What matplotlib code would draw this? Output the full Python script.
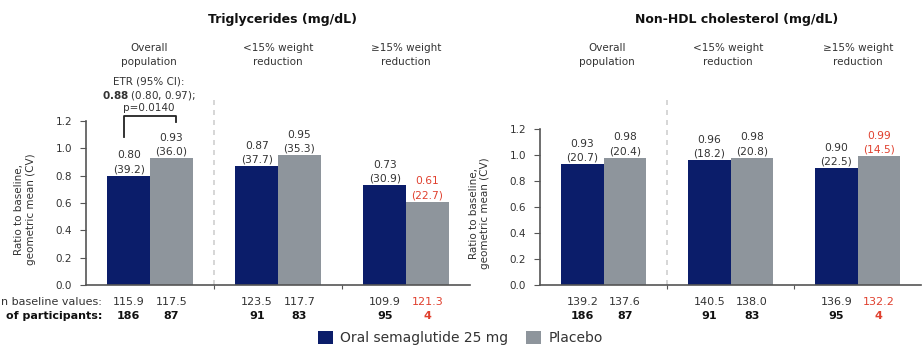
import matplotlib
matplotlib.use('Agg')
import matplotlib.pyplot as plt
from matplotlib.patches import Patch

# ---------------- data ----------------
groups = ['Overall\npopulation', '<15% weight\nreduction', '\u226515% weight\nreduction']

tg_sema = [0.80, 0.87, 0.73]
tg_sema_cv = [39.2, 37.7, 30.9]
tg_plac = [0.93, 0.95, 0.61]
tg_plac_cv = [36.0, 35.3, 22.7]
tg_base_sema = [115.9, 123.5, 109.9]
tg_base_plac = [117.5, 117.7, 121.3]

nh_sema = [0.93, 0.96, 0.90]
nh_sema_cv = [20.7, 18.2, 22.5]
nh_plac = [0.98, 0.98, 0.99]
nh_plac_cv = [20.4, 20.8, 14.5]
nh_base_sema = [139.2, 140.5, 136.9]
nh_base_plac = [137.6, 138.0, 132.2]

n_sema = [186, 91, 95]
n_plac = [87, 83, 4]
placebo_flag = [False, False, True]   # small-n placebo shown in red

yticks = [0.0, 0.2, 0.4, 0.6, 0.8, 1.0, 1.2]

# ---------------- style ----------------
NAVY = '#0b1d6a'
GREY = '#8e959c'
RED = '#e0402e'
TXT = '#333333'
AXC = '#555555'

W, H = 924, 354
fig = plt.figure(figsize=(W / 100, H / 100), dpi=100)
fig.patch.set_facecolor('white')


def box(x0, y0, x1, y1):
    return [x0 / W, 1 - y1 / H, (x1 - x0) / W, (y1 - y0) / H]


def fx(x):
    return x / W


def fy(y):
    return 1 - y / H


ax1 = fig.add_axes(box(86, 121, 470, 285))
ax2 = fig.add_axes(box(540, 129, 921, 285))

bw = 0.333
FS = 8
VFS = 7.7


def draw(ax, sema, sema_cv, plac, plac_cv, base_s, base_p, dash_top):
    xs = list(range(len(groups)))
    xs_s = [x - bw / 2 for x in xs]
    xs_p = [x + bw / 2 for x in xs]
    ax.bar(xs_s, sema, width=bw, color=NAVY, linewidth=0)
    ax.bar(xs_p, plac, width=bw, color=GREY, linewidth=0)
    for i in xs:
        pc = RED if placebo_flag[i] else TXT
        ax.annotate(f"{sema[i]:.2f}\n({sema_cv[i]:.1f})", xy=(xs_s[i], sema[i]),
                    xytext=(0, 1.0), textcoords='offset points', ha='center', va='bottom',
                    fontsize=VFS, color=TXT, linespacing=1.5)
        ax.annotate(f"{plac[i]:.2f}\n({plac_cv[i]:.1f})", xy=(xs_p[i], plac[i]),
                    xytext=(0, 1.0), textcoords='offset points', ha='center', va='bottom',
                    fontsize=VFS, color=pc, linespacing=1.5)
        ax.annotate(f"{base_s[i]:.1f}", xy=(xs_s[i], 0), xycoords=('data', 'axes fraction'),
                    xytext=(0, -12.5), textcoords='offset points', ha='center', va='center',
                    fontsize=FS, color=TXT)
        ax.annotate(f"{base_p[i]:.1f}", xy=(xs_p[i], 0), xycoords=('data', 'axes fraction'),
                    xytext=(0, -12.5), textcoords='offset points', ha='center', va='center',
                    fontsize=FS, color=pc)
        ax.annotate(f"{n_sema[i]}", xy=(xs_s[i], 0), xycoords=('data', 'axes fraction'),
                    xytext=(0, -22.5), textcoords='offset points', ha='center', va='center',
                    fontsize=FS, color='#111111', fontweight='bold')
        ax.annotate(f"{n_plac[i]}", xy=(xs_p[i], 0), xycoords=('data', 'axes fraction'),
                    xytext=(0, -22.5), textcoords='offset points', ha='center', va='center',
                    fontsize=FS, color=RED if placebo_flag[i] else '#111111', fontweight='bold')
    ax.set_xlim(-0.5, 2.5)
    ax.set_ylim(0, 1.2)
    ax.set_yticks(yticks)
    ax.set_yticklabels([f"{t:.1f}" for t in yticks], fontsize=7.5, color=TXT)
    ax.set_xticks([0.5, 1.5])
    ax.set_xticklabels([])
    ax.tick_params(axis='y', direction='out', length=4, color=AXC, pad=6)
    ax.tick_params(axis='x', direction='out', length=3, color=AXC)
    for s in ['top', 'right']:
        ax.spines[s].set_visible(False)
    for s in ['left', 'bottom']:
        ax.spines[s].set_color(AXC)
        ax.spines[s].set_linewidth(1.2)
    ax.set_ylabel('Ratio to baseline,\ngeometric mean (CV)', fontsize=7.5, color=TXT,
                  linespacing=1.2)
    ax.yaxis.set_label_coords(-0.13, 0.46)
    ax.plot([0.5, 0.5], [0, dash_top], ls=(0, (3, 3)), color='#cfcfcf', lw=1.2,
            clip_on=False, zorder=0)


draw(ax1, tg_sema, tg_sema_cv, tg_plac, tg_plac_cv, tg_base_sema, tg_base_plac, 1.37)
draw(ax2, nh_sema, nh_sema_cv, nh_plac, nh_plac_cv, nh_base_sema, nh_base_plac, 1.46)

# titles
fig.text(fx(283), fy(20), 'Triglycerides (mg/dL)', ha='center', va='center',
         fontsize=9, fontweight='bold', color='#111111')
fig.text(fx(737), fy(20), 'Non-HDL cholesterol (mg/dL)', ha='center', va='center',
         fontsize=9, fontweight='bold', color='#111111')

# sub headers
for cx, g in zip([149, 278, 406], groups):
    fig.text(fx(cx), fy(55), g, ha='center', va='center', fontsize=7.5, color=TXT,
             linespacing=1.5)
for cx, g in zip([607, 728, 858], groups):
    fig.text(fx(cx), fy(55), g, ha='center', va='center', fontsize=7.5, color=TXT,
             linespacing=1.5)

# ETR annotation
fig.text(fx(149), fy(82), 'ETR (95% CI):', ha='center', va='center', fontsize=7.5, color=TXT)
fig.text(fx(149), fy(96), r'$\mathbf{0.88}$ (0.80, 0.97);', ha='center', va='center',
         fontsize=7.5, color=TXT)
fig.text(fx(149), fy(108), 'p=0.0140', ha='center', va='center', fontsize=7.5, color=TXT)
ax1.plot([-0.2, -0.2, 0.2, 0.2], [1.08, 1.235, 1.235, 1.19], color='#222222', lw=1.3,
         clip_on=False)

# row labels (shown cut off at the left edge in the original)
fig.text(fx(102), fy(302), 'n baseline values:', ha='right', va='center', fontsize=FS,
         color=TXT)
fig.text(fx(102), fy(316), 'of participants:', ha='right', va='center', fontsize=FS,
         color='#111111', fontweight='bold')

# legend
handles = [Patch(facecolor=NAVY, label='Oral semaglutide 25 mg'),
           Patch(facecolor=GREY, label='Placebo')]
fig.legend(handles=handles, loc='center', bbox_to_anchor=(fx(460), fy(338)), ncol=2,
           frameon=False, fontsize=10, handlelength=1.1, handleheight=1.1,
           columnspacing=1.3, handletextpad=0.5, labelcolor=TXT)

fig.savefig('out.png', dpi=100, facecolor='white')
